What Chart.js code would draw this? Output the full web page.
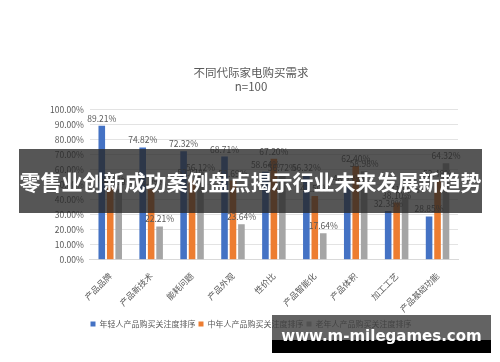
<!DOCTYPE html>
<html>
<head>
<meta charset="utf-8">
<script src="https://cdn.jsdelivr.net/npm/chart.js@4.4.1/dist/chart.umd.min.js"></script>
<style>
  html, body { margin: 0; padding: 0; background: #fff; }
  #wrap { position: relative; width: 500px; height: 362px; overflow: hidden; }
  #chart { position: absolute; left: 0; top: 0; }
  /* the dark headline band across the middle */
  #banner {
    position: absolute; left: 19px; top: 149px; width: 463px; height: 64px;
    background: rgba(38, 38, 38, 0.78);
    color: #fff; font-family: "Noto Sans CJK SC", sans-serif; font-weight: bold;
    font-size: 21px; line-height: 64px; text-align: center; white-space: nowrap;
  }
  /* site mark, bottom right */
  #site {
    position: absolute; left: 272px; top: 315px; width: 219px; height: 38px;
    background: linear-gradient(rgba(60,60,60,0.8) 0, rgba(60,60,60,0.8) 25px, #000 25px);
    color: #fff; font-family: "DejaVu Sans", sans-serif; font-weight: bold;
    font-size: 15px; line-height: 42px; text-align: center; white-space: nowrap;
  }
</style>
</head>
<body>
<div id="wrap">
  <canvas id="chart" width="500" height="362"></canvas>
  <div id="banner">零售业创新成功案例盘点揭示行业未来发展新趋势</div>
  <div id="site">www.m-milegames.com</div>
</div>
<script>
  // categories
  let categories = ['产品品牌', '产品新技术', '能耗问题', '产品外观', '性价比', '产品智能化', '产品体积', '加工工艺', '产品基础功能'];

  // series (percent)
  let young_values  = [89.21, 74.82, 72.32, 68.71, 58.64, 56.32, 48.93, 32.38, 28.85];
  let middle_values = [48.24, 46.99, 52.81, 52.69, 67.20, 42.50, 62.40, 38.10, 52.48];
  let old_values    = [47.00, 22.21, 56.12, 23.64, 56.72, 17.64, 58.98, 41.60, 64.32];

  let series_names = ['年轻人产品购买关注度排序', '中年人产品购买关注度排序', '老年人产品购买关注度排序'];
  let series_colors = ['#4472C4', '#ED7D31', '#A5A5A5'];

  let title_lines = ['不同代际家电购买需求', 'n=100'];

  let text_color = '#595959';
  let font_family = '"Microsoft YaHei", "Noto Sans CJK SC", sans-serif';

  // value labels above each bar
  let bar_labels = {
    id: 'barLabels',
    afterDatasetsDraw: function(chart) {
      let ctx = chart.ctx;
      ctx.save();
      ctx.font = '8.5px ' + font_family;
      ctx.fillStyle = text_color;
      ctx.textAlign = 'center';
      ctx.textBaseline = 'bottom';
      chart.data.datasets.forEach(function(ds, i) {
        let meta = chart.getDatasetMeta(i);
        meta.data.forEach(function(bar, j) {
          ctx.fillText(ds.data[j].toFixed(2) + '%', bar.x, bar.y - 3);
        });
      });
      ctx.restore();
    }
  };

  let datasets = [young_values, middle_values, old_values].map(function(vals, i) {
    return {
      label: series_names[i],
      data: vals,
      backgroundColor: series_colors[i],
      barPercentage: 0.78,
      categoryPercentage: 0.62
    };
  });

  new Chart(document.getElementById('chart'), {
    type: 'bar',
    data: { labels: categories, datasets: datasets },
    plugins: [bar_labels],
    options: {
      responsive: false,
      animation: false,
      layout: { padding: { top: 66, left: 44, right: 42, bottom: 24 } },
      plugins: {
        title: {
          display: true,
          text: title_lines,
          color: text_color,
          font: { family: font_family, size: 11.5, weight: 'normal', lineHeight: 1.2 },
          padding: { top: 0, bottom: 16 }
        },
        legend: {
          position: 'bottom',
          labels: {
            color: text_color,
            boxWidth: 5,
            boxHeight: 5,
            padding: 3,
            font: { family: font_family, size: 8 }
          }
        },
        tooltip: { enabled: false }
      },
      scales: {
        x: {
          grid: { display: false },
          border: { color: '#d9d9d9' },
          ticks: {
            color: text_color,
            minRotation: 45,
            maxRotation: 45,
            font: { family: font_family, size: 8.5 }
          }
        },
        y: {
          min: 0,
          max: 100,
          grid: { color: '#e3e3e3', drawTicks: false },
          border: { display: false },
          ticks: {
            stepSize: 10,
            padding: 6,
            color: text_color,
            font: { family: font_family, size: 8.5 },
            callback: function(v) { return v.toFixed(2) + '%'; }
          }
        }
      }
    }
  });
</script>
</body>
</html>
